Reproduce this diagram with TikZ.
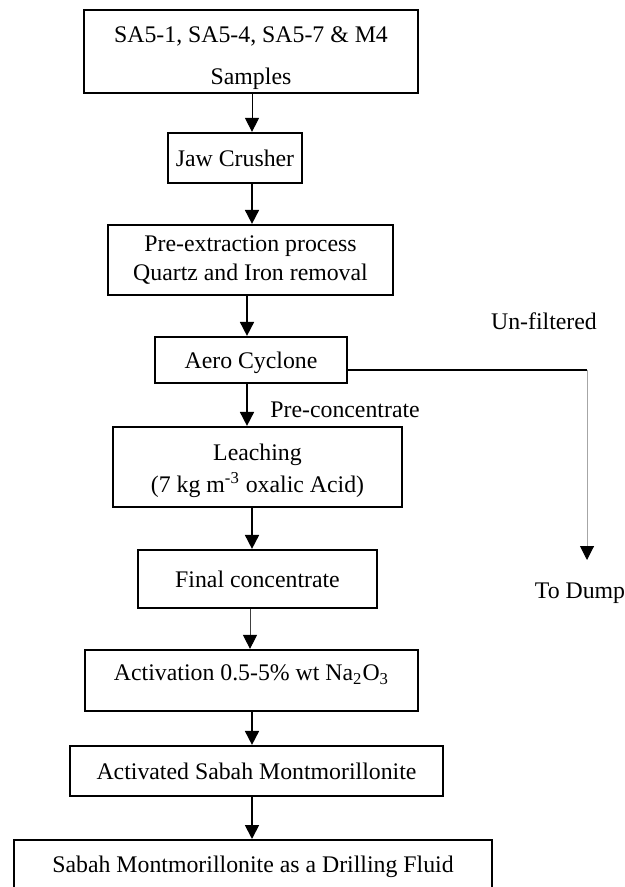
\documentclass[tikz,border=0pt]{standalone}
\usepackage{fontspec}
\setmainfont{Liberation Serif}
\usetikzlibrary{arrows.meta}
\begin{document}
\begin{tikzpicture}[x=0.5pt,y=-0.5pt,
  box/.style={draw,line width=1.1pt,inner sep=0pt,align=center,font=\fontsize{11.9}{14.3}\selectfont},
  lbl/.style={inner sep=0pt,font=\fontsize{11.9}{14.3}\selectfont},
  arr/.style={-{Triangle[width=7pt,length=7pt,black]},line width=0.9pt},
  thinarr/.style={arr,line width=0.5pt}]
\useasboundingbox (0,0) rectangle (625,887);
\coordinate (colA) at (252,0);
\coordinate (colB) at (247,0);
\coordinate (colC) at (250,0);
\node[box,minimum width=167pt,minimum height=41.5pt] (b1) at (251,51.5) {\rule{0pt}{14.5pt}SA5-1, SA5-4, SA5-7 \& M4\\[6.5pt]Samples};
\node[box,minimum width=67pt,minimum height=25pt] (jaw) at (235,158) {Jaw Crusher};
\node[box,minimum width=142.5pt,minimum height=35pt] (pre) at (250.5,260) {Pre-extraction process\\Quartz and Iron removal};
\node[box,minimum width=96pt,minimum height=23pt] (aero) at (251,360) {\rule{0pt}{11pt}Aero Cyclone};
\node[box,minimum width=144.5pt,minimum height=40pt] (leach) at (257.5,467) {\rule{0pt}{12pt}Leaching\\[1.7pt](7 kg m\textsuperscript{-3} oxalic Acid)};
\node[box,minimum width=119.5pt,minimum height=29pt] (final) at (257.5,579) {Final concentrate};
\node[box,minimum width=166.5pt,minimum height=30.5pt] (act) at (251.5,680.5) {Activation 0.5-5\% wt Na\textsubscript{2}O\textsubscript{3}\rule[-8pt]{0pt}{8pt}};
\node[box,minimum width=186.5pt,minimum height=25pt] (actd) at (256.5,771) {Activated Sabah Montmorillonite};
\node[box,minimum width=239pt,text height=16pt,text depth=20pt,anchor=north] (last) at (253,839) {Sabah Montmorillonite as a Drilling Fluid};
\node[lbl] (unf) at (544,321) {Un-filtered};
\node[lbl] (dump) at (580,593) {To Dump};
\node[lbl,anchor=west] (prec) at (270,410) {Pre-concentrate};
\coordinate (corner) at (587,370);
\coordinate (dumpend) at (587,560);
\draw[thinarr] (b1.south -| colA) -- (jaw.north -| colA);
\draw[arr] (jaw.south -| colA) -- (pre.north -| colA);
\draw[arr] (pre.south -| colB) -- (aero.north -| colB);
\draw[arr] (aero.south -| colB) -- (leach.north -| colB);
\draw[arr] (leach.south -| colA) -- (final.north -| colA);
\draw[thinarr,draw=black!75] (final.south -| colC) -- (act.north -| colC);
\draw[arr] (act.south -| colA) -- (actd.north -| colA);
\draw[arr] (actd.south -| colA) -- (last.north -| colA);
\draw[line width=1.1pt] (aero.east |- corner) -- (corner);
\draw[thinarr,draw=gray!70] (corner) -- (dumpend);
\end{tikzpicture}
\end{document}
